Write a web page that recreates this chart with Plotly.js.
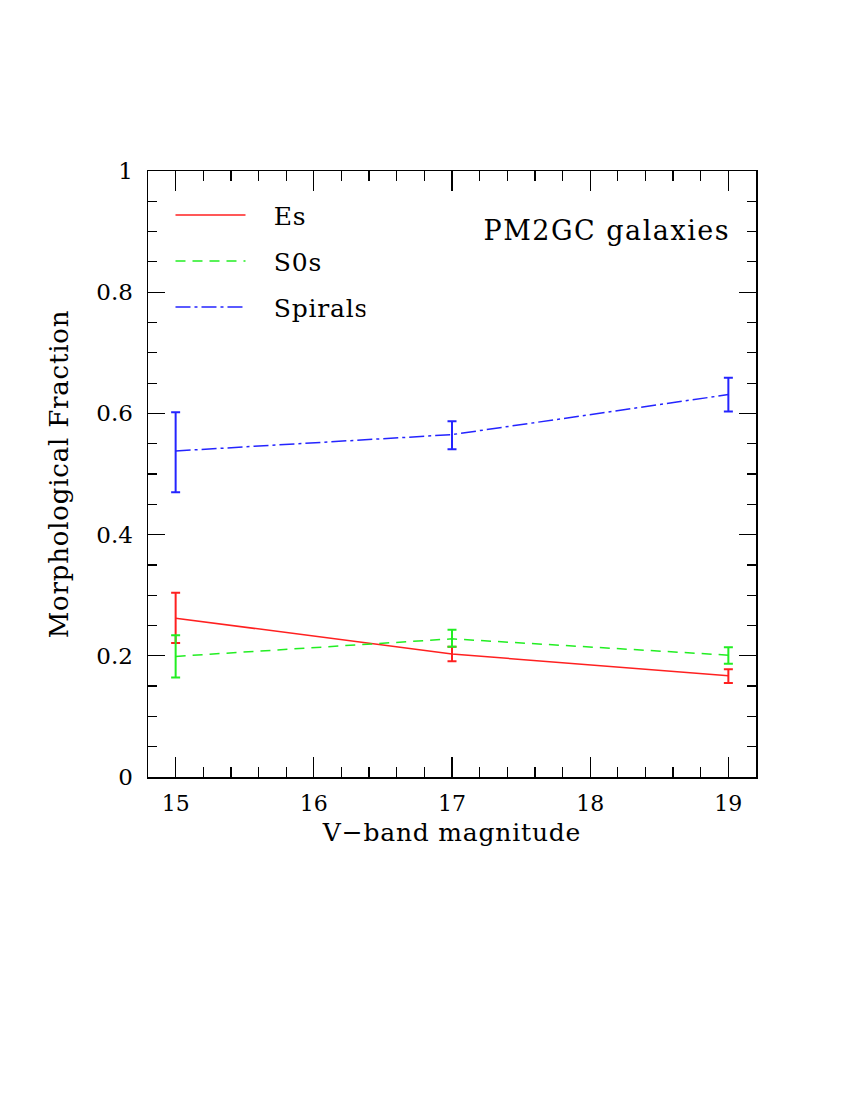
<!DOCTYPE html>
<html>
<head>
<meta charset="utf-8">
<script src="https://cdn.plot.ly/plotly-3.0.1.min.js"></script>
<style>
  html, body { margin: 0; padding: 0; background: #ffffff; }
  #chart { width: 850px; height: 1100px; }
  /* the original uses a wide, thin plotting font; open the letters up a bit */
  #chart .annotation-text { letter-spacing: 1.5px; }
  #chart .legendtext { letter-spacing: 0.8px; }
  #chart .g-xtitle text, #chart .g-ytitle text { letter-spacing: 0.8px; }
</style>
</head>
<body>
<div id="chart"></div>
<script>
// ─── Data ────────────────────────────────────────────────────────────────────
const magnitudes = [15, 17, 19];

const esFrac     = [0.262, 0.203, 0.167];
const esErrUp    = [0.042, 0.012, 0.011];
const esErrDown  = [0.041, 0.012, 0.012];

const s0Frac     = [0.199, 0.228, 0.201];
const s0ErrUp    = [0.035, 0.015, 0.013];
const s0ErrDown  = [0.035, 0.013, 0.014];

const spFrac     = [0.538, 0.565, 0.631];
const spErrUp    = [0.064, 0.022, 0.028];
const spErrDown  = [0.068, 0.024, 0.028];

const seriesNames = ['Es', 'S0s', 'Spirals'];
const annotationText = 'PM2GC galaxies';

// ─── Styling ─────────────────────────────────────────────────────────────────
const FONT = '"DejaVu Serif", "Liberation Serif", serif';
const RED = '#ff2020';
const GREEN = '#22ee22';
const BLUE = '#2424ff';
const LEGEND_PAD = '\u00a0\u00a0\u2009';   // gap between key line and label

function buildTrace(name, y, up, down, color, dash, group) {
    return {
        type: 'scatter', mode: 'lines',
        x: magnitudes, y: y,
        name: LEGEND_PAD + name,
        legendgroup: group,
        line: { color: color, width: 1.5, dash: dash },
        error_y: {
            type: 'data', symmetric: false,
            array: up, arrayminus: down,
            color: color, thickness: 2, width: 4.5,
        },
    };
}

const traces = [
    buildTrace(seriesNames[0], esFrac, esErrUp, esErrDown, RED, 'solid', 'a'),
    buildTrace(seriesNames[1], s0Frac, s0ErrUp, s0ErrDown, GREEN, '10px,7px', 'b'),
    buildTrace(seriesNames[2], spFrac, spErrUp, spErrDown, BLUE, '15px,4px,3px,4px', 'c'),
];

const axisCommon = {
    showgrid: false,
    zeroline: false,
    showline: true,
    linecolor: '#000000',
    linewidth: 1.5,
    mirror: 'allticks',
    ticks: 'inside',
    tickcolor: '#000000',
    tickwidth: 1.2,
    tickfont: { family: FONT, size: 22, color: '#000000' },
};

const layout = {
    width: 850,
    height: 1100,
    paper_bgcolor: '#ffffff',
    plot_bgcolor: '#ffffff',
    font: { family: FONT, color: '#000000' },
    margin: { l: 148, r: 94, t: 171, b: 323 },
    showlegend: true,
    legend: {
        x: 0.037, y: 0.965, xanchor: 'left', yanchor: 'top',
        bgcolor: 'rgba(0,0,0,0)',
        font: { family: FONT, size: 25, color: '#000000' },
        itemwidth: 70,
        traceorder: 'grouped',
        tracegroupgap: 10.5,
    },
    xaxis: Object.assign({}, axisCommon, {
        range: [14.8, 19.2],
        tickmode: 'linear', tick0: 15, dtick: 1,
        ticklen: 20,
        ticklabelstandoff: 6,
        minor: { tick0: 15, dtick: 0.2, ticklen: 10, ticks: 'inside', tickcolor: '#000000', tickwidth: 1.2 },
        title: { text: 'V\u2212band magnitude', font: { family: FONT, size: 25 }, standoff: 8 },
    }),
    yaxis: Object.assign({}, axisCommon, {
        range: [0, 1],
        tickmode: 'linear', tick0: 0, dtick: 0.2,
        ticklen: 17,
        ticklabelstandoff: 9,
        tickfont: { family: FONT, size: 23, color: '#000000' },
        minor: { tick0: 0, dtick: 0.05, ticklen: 9, ticks: 'inside', tickcolor: '#000000', tickwidth: 1.2 },
        title: { text: 'Morphological Fraction', font: { family: FONT, size: 26 }, standoff: 20 },
    }),
    annotations: [{
        xref: 'paper', yref: 'paper',
        x: 0.944, y: 0.902, xanchor: 'right', yanchor: 'middle',
        text: annotationText, showarrow: false,
        font: { family: FONT, size: 27, color: '#000000' },
    }],
};

Plotly.newPlot('chart', traces, layout, { displayModeBar: false, staticPlot: true });
</script>
</body>
</html>
